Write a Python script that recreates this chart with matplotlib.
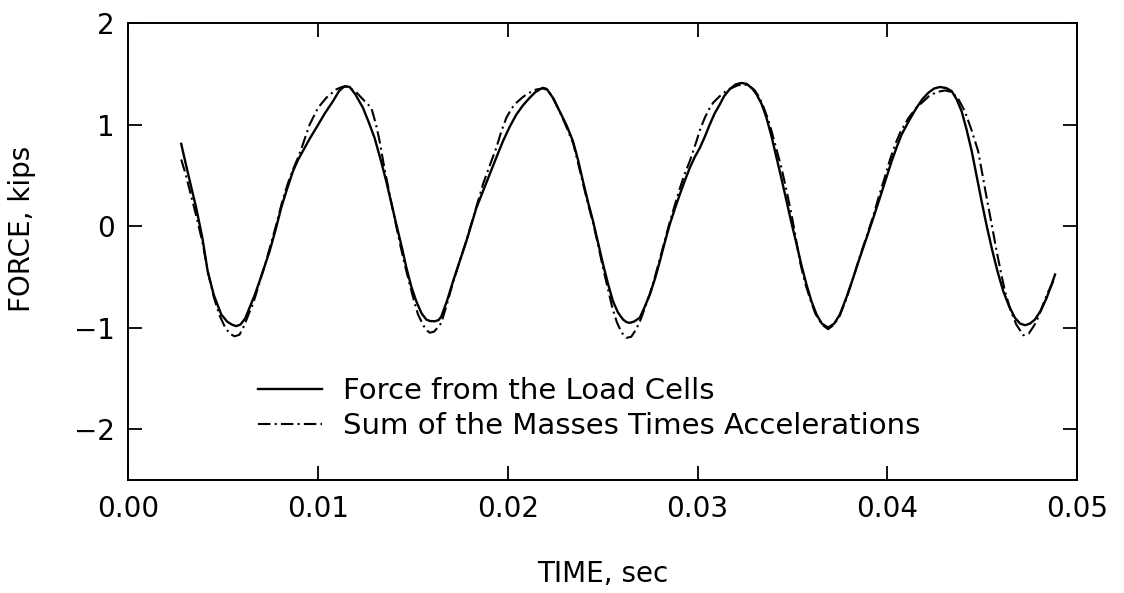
import matplotlib
matplotlib.use("Agg")
import matplotlib.pyplot as plt

# Force from the load cells (time in sec, force in kips)
t_cells = [0.00278, 0.00300, 0.00330, 0.00357, 0.00390, 0.00418, 0.00450, 0.00489, 0.00520, 0.00545,
           0.00568, 0.00590, 0.00615, 0.00638, 0.00665, 0.00691, 0.00720, 0.00744, 0.00775, 0.00805,
           0.00835, 0.00867, 0.00893, 0.00919, 0.00955, 0.00990, 0.01035, 0.01078, 0.01110, 0.01139,
           0.01166, 0.01195, 0.01236, 0.01265, 0.01297, 0.01330, 0.01359, 0.01385, 0.01412, 0.01440,
           0.01465, 0.01490, 0.01517, 0.01545, 0.01570, 0.01590, 0.01615, 0.01635, 0.01649, 0.01680,
           0.01711, 0.01745, 0.01781, 0.01808, 0.01834, 0.01870, 0.01904, 0.01940, 0.01974, 0.02010,
           0.02045, 0.02080, 0.02115, 0.02145, 0.02168, 0.02185, 0.02205, 0.02235, 0.02273, 0.02310,
           0.02343, 0.02370, 0.02396, 0.02422, 0.02449, 0.02475, 0.02502, 0.02528, 0.02554, 0.02580,
           0.02607, 0.02625, 0.02642, 0.02665, 0.02695, 0.02720, 0.02748, 0.02775, 0.02801, 0.02827,
           0.02853, 0.02880, 0.02906, 0.02933, 0.02959, 0.02985, 0.03012, 0.03038, 0.03064, 0.03090,
           0.03117, 0.03140, 0.03170, 0.03200, 0.03231, 0.03260, 0.03290, 0.03311, 0.03338, 0.03363,
           0.03390, 0.03416, 0.03443, 0.03469, 0.03495, 0.03522, 0.03548, 0.03574, 0.03600, 0.03627,
           0.03655, 0.03688, 0.03720, 0.03750, 0.03785, 0.03820, 0.03855, 0.03891, 0.03926, 0.03961,
           0.03992, 0.04023, 0.04050, 0.04075, 0.04115, 0.04154, 0.04185, 0.04216, 0.04247, 0.04277,
           0.04310, 0.04339, 0.04365, 0.04392, 0.04418, 0.04445, 0.04471, 0.04497, 0.04523, 0.04550,
           0.04580, 0.04611, 0.04642, 0.04673, 0.04700, 0.04726, 0.04752, 0.04778, 0.04810, 0.04840,
           0.04865, 0.04884]
f_cells = [0.81, 0.63, 0.39, 0.18, -0.12, -0.45, -0.68, -0.87, -0.94, -0.97,
           -0.985, -0.97, -0.91, -0.805, -0.68, -0.543, -0.38, -0.247, -0.04, 0.18,
           0.36, 0.54, 0.65, 0.738, 0.86, 0.968, 1.11, 1.23, 1.33, 1.378,
           1.37, 1.30, 1.165, 1.03, 0.87, 0.65, 0.44, 0.23, 0.016, -0.20,
           -0.41, -0.59, -0.74, -0.86, -0.92, -0.935, -0.937, -0.925, -0.89, -0.73,
           -0.543, -0.35, -0.149, 0.02, 0.18, 0.35, 0.508, 0.68, 0.836, 0.98,
           1.10, 1.19, 1.264, 1.32, 1.346, 1.362, 1.35, 1.27, 1.13, 0.99,
           0.836, 0.65, 0.44, 0.24, 0.048, -0.16, -0.378, -0.57, -0.74, -0.85,
           -0.92, -0.945, -0.953, -0.94, -0.903, -0.80, -0.674, -0.52, -0.346, -0.16,
           0.016, 0.17, 0.311, 0.45, 0.574, 0.68, 0.771, 0.88, 1.0, 1.11,
           1.198, 1.28, 1.35, 1.395, 1.41, 1.40, 1.35, 1.297, 1.20, 1.067,
           0.88, 0.673, 0.46, 0.245, 0.03, -0.18, -0.39, -0.575, -0.74, -0.87,
           -0.96, -1.0, -0.96, -0.87, -0.70, -0.51, -0.31, -0.115, 0.08, 0.279,
           0.46, 0.64, 0.78, 0.90, 1.04, 1.165, 1.25, 1.313, 1.355, 1.37,
           1.36, 1.33, 1.25, 1.13, 0.95, 0.738, 0.49, 0.245, 0.01, -0.214,
           -0.44, -0.64, -0.79, -0.903, -0.96, -0.976, -0.96, -0.92, -0.83, -0.706,
           -0.58, -0.477]

# Sum of the masses times accelerations
t_mass = [0.00278, 0.00300, 0.00330, 0.00360, 0.00390, 0.00420, 0.00450, 0.00480, 0.00510, 0.00535,
          0.00559, 0.00585, 0.00610, 0.00635, 0.00656, 0.00690, 0.00720, 0.00750, 0.00780, 0.00810,
          0.00840, 0.00870, 0.00895, 0.00919, 0.00955, 0.00999, 0.01043, 0.01095, 0.01125, 0.01150,
          0.01175, 0.01200, 0.01240, 0.01280, 0.01305, 0.01324, 0.01350, 0.01375, 0.01400, 0.01425,
          0.01450, 0.01475, 0.01500, 0.01526, 0.01555, 0.01575, 0.01588, 0.01610, 0.01630, 0.01649,
          0.01680, 0.01710, 0.01745, 0.01780, 0.01810, 0.01840, 0.01870, 0.01905, 0.01939, 0.01965,
          0.01992, 0.02020, 0.02045, 0.02075, 0.02098, 0.02125, 0.02150, 0.02185, 0.02210, 0.02240,
          0.02275, 0.02310, 0.02345, 0.02370, 0.02396, 0.02422, 0.02449, 0.02475, 0.02500, 0.02525,
          0.02550, 0.02575, 0.02600, 0.02625, 0.02650, 0.02675, 0.02700, 0.02722, 0.02750, 0.02775,
          0.02800, 0.02827, 0.02853, 0.02880, 0.02906, 0.02933, 0.02959, 0.02994, 0.03015, 0.03038,
          0.03060, 0.03082, 0.03117, 0.03150, 0.03180, 0.03210, 0.03240, 0.03270, 0.03300, 0.03325,
          0.03346, 0.03370, 0.03390, 0.03415, 0.03442, 0.03470, 0.03495, 0.03518, 0.03539, 0.03565,
          0.03590, 0.03620, 0.03655, 0.03688, 0.03720, 0.03750, 0.03785, 0.03820, 0.03855, 0.03891,
          0.03926, 0.03955, 0.03985, 0.04015, 0.04045, 0.04070, 0.04110, 0.04150, 0.04185, 0.04220,
          0.04260, 0.04304, 0.04340, 0.04375, 0.04409, 0.04445, 0.04479, 0.04505, 0.04527, 0.04550,
          0.04573, 0.04597, 0.04620, 0.04650, 0.04680, 0.04717, 0.04745, 0.04770, 0.04787, 0.04815,
          0.04845, 0.04884]
f_mass = [0.656, 0.52, 0.30, 0.08, -0.16, -0.46, -0.70, -0.88, -1.0, -1.06,
          -1.085, -1.07, -0.98, -0.86, -0.77, -0.56, -0.38, -0.18, 0.02, 0.24,
          0.42, 0.57, 0.68, 0.804, 1.0, 1.165, 1.264, 1.346, 1.37, 1.375,
          1.35, 1.32, 1.24, 1.165, 1.00, 0.836, 0.56, 0.33, 0.10, -0.12,
          -0.33, -0.52, -0.70, -0.87, -0.98, -1.03, -1.05, -1.04, -1.0, -0.953,
          -0.76, -0.56, -0.35, -0.15, 0.04, 0.23, 0.42, 0.60, 0.771, 0.93,
          1.067, 1.16, 1.215, 1.265, 1.297, 1.325, 1.346, 1.355, 1.34, 1.26,
          1.12, 0.97, 0.81, 0.62, 0.42, 0.22, 0.03, -0.18, -0.40, -0.60,
          -0.80, -0.95, -1.05, -1.10, -1.09, -1.02, -0.92, -0.805, -0.66, -0.50,
          -0.33, -0.14, 0.04, 0.21, 0.37, 0.52, 0.64, 0.836, 0.96, 1.067,
          1.15, 1.215, 1.28, 1.33, 1.36, 1.385, 1.395, 1.385, 1.34, 1.27,
          1.18, 1.06, 0.935, 0.76, 0.574, 0.34, 0.114, -0.12, -0.346, -0.55,
          -0.70, -0.86, -0.97, -1.015, -0.97, -0.88, -0.71, -0.51, -0.30, -0.10,
          0.10, 0.29, 0.47, 0.66, 0.82, 0.93, 1.06, 1.16, 1.22, 1.28,
          1.32, 1.336, 1.32, 1.25, 1.13, 0.94, 0.738, 0.47, 0.245, 0.02,
          -0.214, -0.44, -0.64, -0.83, -0.97, -1.075, -1.06, -0.99, -0.937, -0.80,
          -0.66, -0.51]

x_ticks = [0.00, 0.01, 0.02, 0.03, 0.04, 0.05]
x_tick_labels = ["0.00", "0.01", "0.02", "0.03", "0.04", "0.05"]
y_ticks = [-2, -1, 0, 1, 2]
y_tick_labels = ["\u22122", "\u22121", "0", "1", "2"]

plt.rcParams['font.family'] = ['DejaVu Sans']

fig = plt.figure(figsize=(11.24, 5.93), dpi=100)
ax = fig.add_axes([0.1143, 0.1906, 0.8439, 0.7706])

ax.plot(t_cells, f_cells, color='black', lw=1.7, label='Force from the Load Cells')
ax.plot(t_mass, f_mass, color='black', lw=1.5, linestyle=(0, (6, 2, 1, 2)),
        label='Sum of the Masses Times Accelerations')

ax.set_xlim(0, 0.05)
ax.set_ylim(-2.5, 2)
ax.set_xticks(x_ticks)
ax.set_xticklabels(x_tick_labels)
ax.set_yticks(y_ticks)
ax.set_yticklabels(y_tick_labels)

ax.tick_params(direction='in', length=10, width=1.3, top=True, right=True,
               labelsize=20, colors='black')
ax.tick_params(axis='x', pad=11)
ax.tick_params(axis='y', pad=10)
for s in ax.spines.values():
    s.set_linewidth(1.4)

ax.set_xlabel('TIME, sec', fontsize=20)
ax.set_ylabel('FORCE, kips', fontsize=20)
ax.xaxis.set_label_coords(0.5, -0.175)
ax.yaxis.set_label_coords(-0.098, 0.55)

ax.legend(loc='center left', bbox_to_anchor=(0.1365, 0.1565), frameon=False,
          fontsize=21, handlelength=2.2, handletextpad=0.7, labelspacing=0.25,
          borderaxespad=0, borderpad=0)

fig.savefig('out.png', dpi=100)
